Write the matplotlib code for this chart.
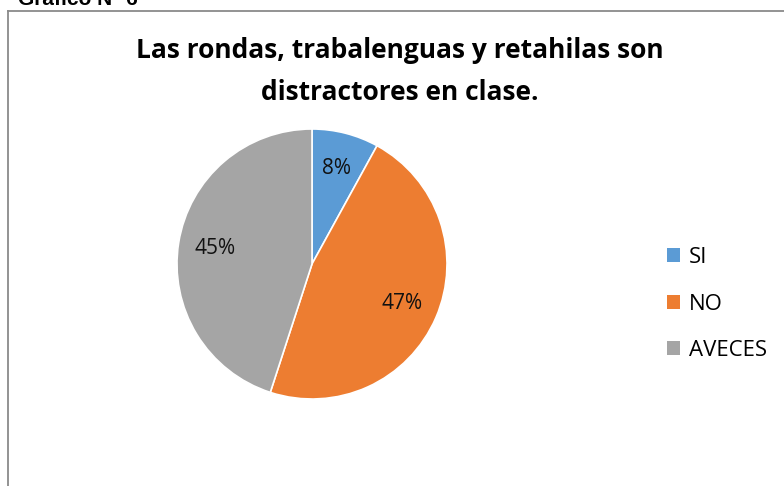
import matplotlib.pyplot as plt
from matplotlib.lines import Line2D
from matplotlib.patches import Patch

# Datos del gráfico
categorias = ['SI', 'NO', 'AVECES']
porcentajes = [8, 47, 45]
colores = ['#5B9BD5', '#ED7D31', '#A5A5A5']

fig = plt.figure(figsize=(7.84, 4.86), dpi=100)
W, H = 784, 486

# marco del gráfico (solo borde superior e izquierdo visibles)
fig.add_artist(Line2D([8 / W, 8 / W], [0, 1 - 11 / H], transform=fig.transFigure, color='#8a8a8a', lw=1.3))
fig.add_artist(Line2D([8 / W, 1], [1 - 11 / H, 1 - 11 / H], transform=fig.transFigure, color='#8a8a8a', lw=1.3))

# rótulo cortado arriba
fig.text(18 / W, 1 - 5 / H, 'Gráfico N° 6', fontsize=15, fontweight='bold',
         family='Liberation Sans', va='baseline', ha='left')

fig.text(400 / W, 1 - 51 / H, 'Las rondas, trabalenguas y retahilas son',
         fontsize=19, fontweight='bold', family='Open Sans', ha='center', va='center')
fig.text(400 / W, 1 - 92 / H, 'distractores en clase.',
         fontsize=19, fontweight='bold', family='Open Sans', ha='center', va='center')

ax = fig.add_axes([177 / W, (H - 399) / H, 270 / W, 270 / H])
wedges, texts, autotexts = ax.pie(porcentajes, colors=colores, startangle=90, counterclock=False,
                                  autopct='%d%%', pctdistance=0.73,
                                  wedgeprops=dict(edgecolor='white', linewidth=1.2),
                                  textprops=dict(fontsize=15, family='Open Sans', color='#111111'))
ax.set_xlim(-1, 1)
ax.set_ylim(-1, 1)
ax.set_aspect('equal')

handles = [Patch(facecolor=c, edgecolor='none') for c in colores]
fig.legend(handles, categorias, loc='center left', bbox_to_anchor=(647 / W, 1 - 304 / H),
           frameon=False, prop=dict(family='Open Sans', size=16),
           handlelength=0.6, handleheight=0.6, handletextpad=0.4, labelspacing=1.15)

fig.savefig('out.png', dpi=100)
